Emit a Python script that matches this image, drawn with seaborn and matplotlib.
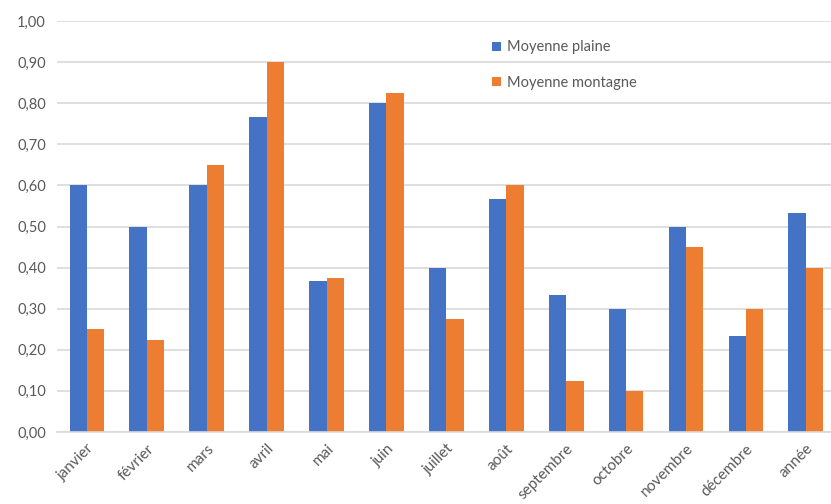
import pandas as pd
import seaborn as sns
import matplotlib.pyplot as plt
from matplotlib.patches import Patch
from matplotlib.ticker import FuncFormatter, MultipleLocator

mois = ["janvier", "février", "mars", "avril", "mai", "juin", "juillet",
        "août", "septembre", "octobre", "novembre", "décembre", "année"]
plaine = [0.60, 0.50, 0.60, 0.767, 0.367, 0.80, 0.40,
          0.567, 0.333, 0.30, 0.50, 0.233, 0.533]
montagne = [0.25, 0.225, 0.65, 0.90, 0.375, 0.825, 0.275,
            0.60, 0.125, 0.10, 0.45, 0.30, 0.40]
series = ["Moyenne plaine", "Moyenne montagne"]
couleurs = ["#4472C4", "#ED7D31"]

df = pd.DataFrame({
    "mois": mois * 2,
    "valeur": plaine + montagne,
    "serie": [series[0]] * len(mois) + [series[1]] * len(mois),
})

sns.set_style("white")
plt.rcParams["font.family"] = ["Lato", "DejaVu Sans"]

fig = plt.figure(figsize=(8.31, 5.04), dpi=100)
ax = fig.add_axes([0.0686, 0.143, 0.9314, 0.815])

sns.barplot(data=df, x="mois", y="valeur", hue="serie", palette=couleurs,
            width=0.58, saturation=1, linewidth=0, ax=ax, legend=False,
            zorder=2)

ax.set_xlim(-0.5, 12.42)
ax.set_ylim(0, 1.0)
ax.yaxis.set_major_locator(MultipleLocator(0.1))
ax.yaxis.set_major_formatter(FuncFormatter(lambda v, p: f"{v:.2f}".replace(".", ",")))
ax.grid(axis="y", color="#D9D9D9", linewidth=1.2, zorder=0)
ax.set_axisbelow(True)
for s in ["top", "right", "left"]:
    ax.spines[s].set_visible(False)
ax.spines["bottom"].set_color("#D9D9D9")
ax.spines["bottom"].set_linewidth(1.2)
ax.set_xlabel("")
ax.set_ylabel("")
ax.tick_params(axis="both", length=0, labelsize=10.5, labelcolor="#595959")
ax.tick_params(axis="y", pad=8)
ax.tick_params(axis="x", pad=7, labelsize=11)
plt.setp(ax.get_xticklabels(), rotation=45, ha="right", rotation_mode="anchor")

handles = [Patch(facecolor=c, edgecolor="none") for c in couleurs]
ax.legend(handles, series, loc="upper left", bbox_to_anchor=(0.545, 0.985),
          frameon=False, fontsize=10.5, labelcolor="#595959",
          handlelength=0.6, handleheight=0.6, handletextpad=0.4,
          labelspacing=1.45)

fig.savefig("out.png", dpi=100)
